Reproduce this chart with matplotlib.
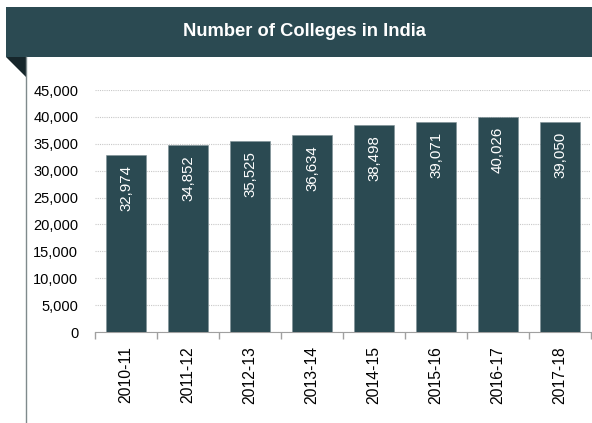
import matplotlib.pyplot as plt
from matplotlib.patches import Rectangle, Polygon
from matplotlib.lines import Line2D
from matplotlib.ticker import FuncFormatter, FixedLocator

plt.rcParams['font.family'] = ['Liberation Sans', 'DejaVu Sans']

years = ["2010-11", "2011-12", "2012-13", "2013-14", "2014-15", "2015-16", "2016-17", "2017-18"]
colleges = [32974, 34852, 35525, 36634, 38498, 39071, 40026, 39050]

dark = "#2b4a52"

fig = plt.figure(figsize=(5.92, 4.23), dpi=100)
W, H = 592, 423

# header banner
fig.patches.append(Rectangle((6 / W, 1 - 57 / H), 1, 50 / H, transform=fig.transFigure,
                             facecolor=dark, edgecolor="none"))
fig.patches.append(Polygon([(6 / W, 1 - 57 / H), (26 / W, 1 - 57 / H), (26 / W, 1 - 77 / H)],
                           closed=True, transform=fig.transFigure,
                           facecolor="#16262b", edgecolor="none"))
fig.lines.append(Line2D([26 / W, 26 / W], [0, 1 - 57 / H], transform=fig.transFigure,
                        color="#7f8a8c", lw=1))
fig.text(304 / W, 1 - 32 / H, "Number of Colleges in India", color="white",
         fontsize=13.2, fontweight="bold", ha="center", va="center")

ax = fig.add_axes([95 / W, 1 - 332 / H, 496 / W, 242 / H])
x = range(len(years))
bars = ax.bar(x, colleges, width=0.65, color=dark, edgecolor="#7d9095", lw=0.4, zorder=3)
for xi, v in zip(x, colleges):
    ax.text(xi, v - 1900, f"{v:,}", rotation=90, color="white", fontsize=10.8,
            ha="center", va="top", zorder=4)

ax.set_xlim(-0.5, len(years) - 0.5)
ax.set_ylim(0, 45000)
ax.set_yticks(range(0, 45001, 5000))
ax.yaxis.set_major_formatter(FuncFormatter(lambda v, p: f"{int(v):,}"))
ax.grid(axis="y", color="#c8c8c8", linestyle=(0, (1, 1)), lw=0.8, zorder=0)
ax.tick_params(axis="y", length=0, labelsize=10.5, pad=12)

ax.set_xticks(list(x))
ax.set_xticklabels(years, rotation=90, fontsize=11.3)
ax.xaxis.set_minor_locator(FixedLocator([i - 0.5 for i in range(len(years) + 1)]))
ax.tick_params(axis="x", which="major", length=0, pad=10)
ax.tick_params(axis="x", which="minor", length=5, color="#a0a0a0", width=1)

for s in ["left", "right", "top"]:
    ax.spines[s].set_visible(False)
ax.spines["bottom"].set_color("#a0a0a0")

fig.savefig("out.png", dpi=100)
